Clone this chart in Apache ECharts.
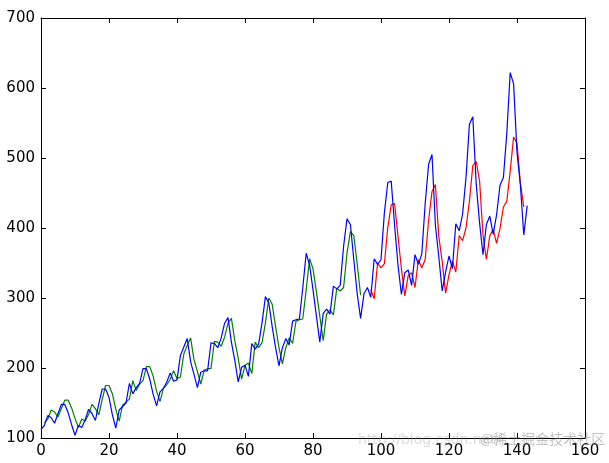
<!DOCTYPE html>
<html><head><meta charset="utf-8">
<script src="https://cdn.jsdelivr.net/npm/echarts@6/dist/echarts.min.js"></script>
<style>html,body{margin:0;padding:0;background:#fff}#c{width:609px;height:463px}</style>
</head><body><div id="c"></div>
<script>
const actual = [112,118,132,129,121,135,148,148,136,119,104,118,
115,126,141,135,125,149,170,170,158,133,114,140,
145,150,178,163,172,178,199,199,184,162,146,166,
171,180,193,181,183,218,230,242,209,191,172,194,
196,196,236,235,229,243,264,272,237,211,180,201,
204,188,235,227,234,264,302,293,259,229,203,229,
242,233,267,269,270,315,364,347,312,274,237,278,
284,277,317,313,318,374,413,405,355,306,271,306,
315,301,356,348,355,422,465,467,404,347,305,336,
340,318,362,348,363,435,491,505,404,359,310,337,
360,342,406,396,420,472,548,559,463,407,362,405,
417,391,419,461,472,535,622,606,508,461,390,432];
const trainStart = 1;
const trainPred = [122,127,140,137,130,142,154,154,143,128,115,127,
124,134,148,142,133,155,175,175,163,141,124,147,
151,156,182,168,177,182,202,202,188,167,152,171,
176,184,196,185,187,220,232,243,212,195,177,197,
199,199,238,237,231,244,264,271,239,214,184,204,
207,192,237,229,236,264,300,291,259,229,206,229,
243,235,267,269,270,312,356,342,309,274,239,277,
283,276,314,310,315,364,395,389,349,304];
const testStart = 97;
const testPred = [312,299,350,343,349,401,433,435,388,342,303,332,
336,315,355,343,355,411,452,462,388,352,307,333,
353,337,389,382,400,438,489,495,467,390,355,389,
398,378,399,430,438,481,530,521,464,430];
const xTicks = [0,20,40,60,80,100,120,140,160];
const yTicks = [100,200,300,400,500,600,700];

const toPts = (arr, start) => arr.map((v,i)=>[start+i, v]);
const font = {color:'#000', fontSize:15, fontFamily:'DejaVu Sans'};
const axisCommon = {
  axisLine:{show:true,onZero:false,lineStyle:{color:'#000',width:1}},
  axisTick:{show:true,inside:true,length:5,lineStyle:{color:'#000'}},
  splitLine:{show:false}
};
const chart = echarts.init(document.getElementById('c'));
chart.setOption({
  animation:false,
  grid:{left:41,right:24,top:18,bottom:25},
  xAxis:[
    Object.assign({type:'value',min:xTicks[0],max:xTicks[xTicks.length-1],interval:20,position:'bottom',
      axisLabel:Object.assign({margin:6},font)},axisCommon),
    Object.assign({type:'value',min:xTicks[0],max:xTicks[xTicks.length-1],interval:20,position:'top',
      axisLabel:{show:false}},axisCommon)
  ],
  yAxis:[
    Object.assign({type:'value',min:yTicks[0],max:yTicks[yTicks.length-1],interval:100,position:'left',
      axisLabel:Object.assign({margin:6},font)},axisCommon),
    Object.assign({type:'value',min:yTicks[0],max:yTicks[yTicks.length-1],interval:100,position:'right',
      axisLabel:{show:false}},axisCommon)
  ],
  graphic:[
    {type:'text',left:358,top:433,z:10,style:{text:'http://blog.csdn.net/',fill:'rgba(150,150,150,0.35)',font:'14px "DejaVu Sans", sans-serif'}},
    {type:'text',left:480,top:432,z:10,style:{text:'@稀土掘金技术社区',fill:'rgba(120,120,120,0.45)',font:'14px "Noto Sans CJK SC", sans-serif'}}
  ],
  series:[
    {type:'line',data:toPts(actual,0),showSymbol:false,lineStyle:{color:'#0000ff',width:1.2},itemStyle:{color:'#0000ff'},z:3},
    {type:'line',data:toPts(trainPred,trainStart),showSymbol:false,lineStyle:{color:'#008000',width:1.2},itemStyle:{color:'#008000'},z:2},
    {type:'line',data:toPts(testPred,testStart),showSymbol:false,lineStyle:{color:'#ff0000',width:1.2},itemStyle:{color:'#ff0000'},z:2}
  ]
});
</script></body></html>
